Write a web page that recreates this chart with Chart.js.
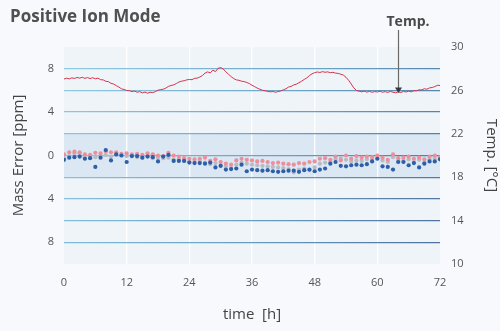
<!DOCTYPE html>
<html>
<head>
<meta charset="utf-8">
<script src="https://cdn.jsdelivr.net/npm/chart.js@4/dist/chart.umd.min.js"></script>
<style>
  html, body { margin: 0; padding: 0; background: #f7f9fc; }
  #wrap { width: 500px; height: 331px; }
</style>
</head>
<body>
<div id="wrap"><canvas id="c" width="500" height="331"></canvas></div>
<script>
// Room temperature log, one reading every half hour (°C)
const TEMP_STEP_H = 0.5;
const temperature = [
  27.05, 27.12, 27.06, 27.16, 27.10, 27.19, 27.13, 27.21, 27.11, 27.18,
  27.09, 27.17, 27.07, 27.13, 26.99, 26.97, 26.84, 26.81, 26.65, 26.59,
  26.44, 26.31, 26.14, 26.09, 25.99, 25.98, 25.89, 25.94, 25.83, 25.89,
  25.77, 25.84, 25.74, 25.83, 25.79, 25.89, 26.02, 26.07, 26.11, 26.21,
  26.37, 26.45, 26.51, 26.63, 26.77, 26.85, 26.89, 26.97, 27.01, 26.99,
  27.11, 27.13, 27.23, 27.37, 27.59, 27.71, 27.61, 27.87, 27.73, 28.03,
  28.11, 27.97, 27.71, 27.49, 27.27, 27.09, 26.97, 26.93, 26.85, 26.81,
  26.73, 26.63, 26.47, 26.35, 26.21, 26.11, 26.01, 25.97, 25.91, 25.87,
  25.90, 25.83, 25.89, 25.95, 26.05, 26.15, 26.31, 26.37, 26.51, 26.57,
  26.71, 26.85, 27.01, 27.15, 27.37, 27.53, 27.63, 27.70, 27.65, 27.73,
  27.67, 27.71, 27.63, 27.67, 27.59, 27.57, 27.49, 27.41, 27.21, 26.93,
  26.59, 26.23, 25.99, 25.93, 25.87, 25.93, 25.84, 25.91, 25.83, 25.89,
  25.85, 25.93, 25.83, 25.89, 25.81, 25.91, 25.83, 25.79, 25.86, 25.81,
  25.91, 25.85, 25.93, 25.87, 25.97, 25.97, 26.05, 26.05, 26.15, 26.11,
  26.23, 26.27, 26.35, 26.47, 26.45
];

// Mass error of three lock-mass ions, one measurement per hour (ppm)
const MS_STEP_H = 1;
const errorIonA = [ // pink
   0.10,  0.30,  0.35,  0.30,  0.10,  0.05,  0.25,  0.20,  0.40,  0.30,
   0.30,  0.15,  0.20,  0.10,  0.15,  0.05,  0.20,  0.10,  0.00, -0.05,
   0.25,  0.00, -0.10, -0.25, -0.30, -0.35, -0.30, -0.20, -0.50, -0.35,
  -0.60, -0.75, -0.85, -0.45, -0.30, -0.40, -0.45, -0.55, -0.50, -0.60,
  -0.70, -0.65, -0.75, -0.80, -0.85, -0.70, -0.75, -0.60, -0.55, -0.30,
  -0.25, -0.40, -0.10, -0.45,  0.00, -0.30, -0.05, -0.20, -0.10, -0.15,
   0.00, -0.20, -0.40,  0.10, -0.25, -0.20, -0.10, -0.30, -0.20, -0.35,
  -0.10,  0.00, -0.15
];
const errorIonB = [ // grey
  -0.25, -0.05,  0.20,  0.15, -0.15, -0.20, -0.15,  0.00,  0.05, -0.10,
   0.10,  0.00, -0.05, -0.05, -0.15, -0.20, -0.05, -0.25, -0.20, -0.25,
  -0.20, -0.35, -0.35, -0.50, -0.55, -0.60, -0.55, -0.65, -0.80, -0.70,
  -0.95, -1.00, -1.15, -0.85, -0.65, -0.75, -0.85, -0.90, -0.95, -1.00,
  -1.05, -1.10, -1.15, -1.25, -1.55, -1.30, -1.20, -1.35, -1.10, -0.75,
  -0.65, -0.60, -0.35, -0.25, -0.40, -0.55, -0.45, -0.50, -0.35, -0.40,
  -0.25, -0.45, -0.60, -0.15, -0.50, -0.50, -0.35, -0.60, -0.40, -0.65,
  -0.35, -0.25, -0.30
];
const errorIonC = [ // blue
  -0.40, -0.20, -0.15, -0.10, -0.30, -0.25, -1.05, -0.20,  0.50, -0.45,
   0.10,  0.00, -0.60, -0.05, -0.05, -0.20, -0.10, -0.15, -0.55, -0.10,
   0.05, -0.50, -0.50, -0.50, -0.65, -0.70, -0.70, -0.75, -0.65, -1.10,
  -0.95, -1.30, -1.25, -1.20, -0.85, -1.45, -1.30, -1.35, -1.40, -1.35,
  -1.45, -1.50, -1.45, -1.40, -1.40, -1.50, -1.35, -1.30, -1.45, -1.30,
  -1.20, -0.75, -0.60, -0.95, -1.00, -0.90, -0.85, -0.90, -0.80, -0.55,
  -0.30, -1.00, -1.05, -1.30, -0.60, -0.60, -0.90, -0.70, -1.10, -0.75,
  -0.55, -0.55, -0.35
];

const HOUR_TICKS = [0, 12, 24, 36, 48, 60, 72];
const ERROR_RANGE = [-10, 10];
const TEMP_RANGE = [10, 30];
const TOLERANCE_BAND = [-2, 2];
const ARROW_HOUR = 64;

const FONT = "'Open Sans', 'Noto Sans', sans-serif";

const toPoints = (arr, step) => arr.map((v, i) => ({ x: i * step, y: v }));

// Background, plot area and the ±2 ppm tolerance band
const backdrop = {
  id: 'backdrop',
  beforeDraw(chart) {
    const { ctx, chartArea: a, scales } = chart;
    ctx.save();
    ctx.fillStyle = '#f7f9fc';
    ctx.fillRect(0, 0, chart.width, chart.height);
    ctx.fillStyle = '#eff4f9';
    ctx.fillRect(a.left, a.top, a.right - a.left, a.bottom - a.top);
    const yHi = scales.y.getPixelForValue(TOLERANCE_BAND[1]);
    const yLo = scales.y.getPixelForValue(TOLERANCE_BAND[0]);
    ctx.fillStyle = '#dbe7f2';
    ctx.fillRect(a.left, yHi, a.right - a.left, yLo - yHi);
    ctx.restore();
  }
};

// Pointer to the temperature trace
const tempPointer = {
  id: 'tempPointer',
  afterDatasetsDraw(chart) {
    const { ctx, scales } = chart;
    const idx = Math.round(ARROW_HOUR / TEMP_STEP_H);
    const x = Math.round(scales.x.getPixelForValue(ARROW_HOUR)) + 0.5;
    const yTip = scales.yT.getPixelForValue(temperature[idx]);
    ctx.save();
    ctx.strokeStyle = '#6a6a6a';
    ctx.lineWidth = 1.2;
    ctx.beginPath();
    ctx.moveTo(x, 30);
    ctx.lineTo(x, yTip - 3);
    ctx.stroke();
    ctx.fillStyle = '#3a3a3a';
    ctx.beginPath();
    ctx.moveTo(x - 3.5, yTip - 4.5);
    ctx.lineTo(x + 3.5, yTip - 4.5);
    ctx.lineTo(x, yTip + 1);
    ctx.closePath();
    ctx.fill();
    ctx.fillStyle = '#4a4a4a';
    ctx.font = 'bold 14px ' + FONT;
    ctx.textAlign = 'left';
    ctx.textBaseline = 'middle';
    ctx.fillText('Temp.', x - 12, 22);
    ctx.restore();
  }
};

function gridGradient(c) {
  const { ctx, chartArea: a } = c.chart;
  if (!a) return '#7fb0cc';
  const g = ctx.createLinearGradient(a.left, a.top, a.right, a.bottom);
  g.addColorStop(0, '#93cde0');
  g.addColorStop(0.5, '#6ea6c6');
  g.addColorStop(1, '#4a6f9c');
  return g;
}

new Chart(document.getElementById('c'), {
  type: 'scatter',
  data: {
    datasets: [
      {
        label: 'Temp.',
        data: toPoints(temperature, TEMP_STEP_H),
        yAxisID: 'yT',
        showLine: true,
        borderColor: '#d8334d',
        borderWidth: 1,
        pointRadius: 0,
        tension: 0,
        order: 0
      },
      {
        label: 'Ion C',
        data: toPoints(errorIonC, MS_STEP_H),
        yAxisID: 'y',
        backgroundColor: '#2d5ea8',
        borderWidth: 0,
        pointRadius: 2.1,
        order: 1
      },
      {
        label: 'Ion A',
        data: toPoints(errorIonA, MS_STEP_H),
        yAxisID: 'y',
        backgroundColor: '#ec8e9b',
        borderWidth: 0,
        pointRadius: 2.1,
        order: 2
      },
      {
        label: 'Ion B',
        data: toPoints(errorIonB, MS_STEP_H),
        yAxisID: 'y',
        backgroundColor: '#b9bbc4',
        borderWidth: 0,
        pointRadius: 2.1,
        order: 3
      }
    ]
  },
  options: {
    responsive: false,
    animation: false,
    devicePixelRatio: 1,
    layout: { padding: { left: 10, right: 0, top: 0, bottom: 0 } },
    plugins: {
      legend: { display: false },
      tooltip: { enabled: false },
      title: {
        display: true,
        text: 'Positive Ion Mode',
        align: 'start',
        color: '#505050',
        font: { family: FONT, size: 17, weight: 'bold' },
        padding: { top: 7, bottom: 19.6 }
      }
    },
    scales: {
      x: {
        type: 'linear',
        min: HOUR_TICKS[0],
        max: HOUR_TICKS[HOUR_TICKS.length - 1],
        afterBuildTicks: s => { s.ticks = HOUR_TICKS.map(v => ({ value: v })); },
        ticks: { padding: 12, color: '#555', font: { family: FONT, size: 11 } },
        grid: {
          color: c => (c.tick && (c.tick.value === HOUR_TICKS[0] || c.tick.value === HOUR_TICKS[HOUR_TICKS.length - 1])) ? 'rgba(0,0,0,0)' : 'rgba(255,255,255,0.9)',
          lineWidth: 1.4,
          drawTicks: false
        },
        border: { display: false },
        title: {
          display: true,
          text: 'time  [h]',
          color: '#444',
          font: { family: FONT, size: 15 },
          padding: { top: 0, bottom: 7.6 }
        },
        afterFit: s => { s.height = 67; }
      },
      y: {
        position: 'left',
        min: ERROR_RANGE[0],
        max: ERROR_RANGE[1],
        ticks: {
          stepSize: 2,
          autoSkip: false,
          padding: 10,
          color: '#555',
          font: { family: FONT, size: 11 },
          callback: v => (v % 4 === 0 && Math.abs(v) <= 8) ? String(Math.abs(v)) : ''
        },
        grid: {
          color: c => (c.tick && Math.abs(c.tick.value) >= 10) ? 'rgba(0,0,0,0)' : gridGradient(c),
          lineWidth: 1.3,
          drawTicks: false
        },
        border: { display: false },
        title: {
          display: true,
          text: 'Mass Error [ppm]',
          color: '#444',
          font: { family: FONT, size: 15 },
          padding: { top: 0, bottom: 0 }
        },
        afterFit: s => { s.width = 54; }
      },
      yT: {
        position: 'right',
        min: TEMP_RANGE[0],
        max: TEMP_RANGE[1],
        ticks: {
          stepSize: 4,
          autoSkip: false,
          padding: 11,
          color: '#555',
          font: { family: FONT, size: 11 }
        },
        grid: { drawOnChartArea: false, drawTicks: false },
        border: { display: false },
        title: {
          display: true,
          text: 'Temp. [°C]',
          color: '#444',
          font: { family: FONT, size: 15 },
          padding: { top: 0, bottom: 5.2 }
        },
        afterFit: s => { s.width = 60; }
      }
    }
  },
  plugins: [backdrop, tempPointer]
});
</script>
</body>
</html>
